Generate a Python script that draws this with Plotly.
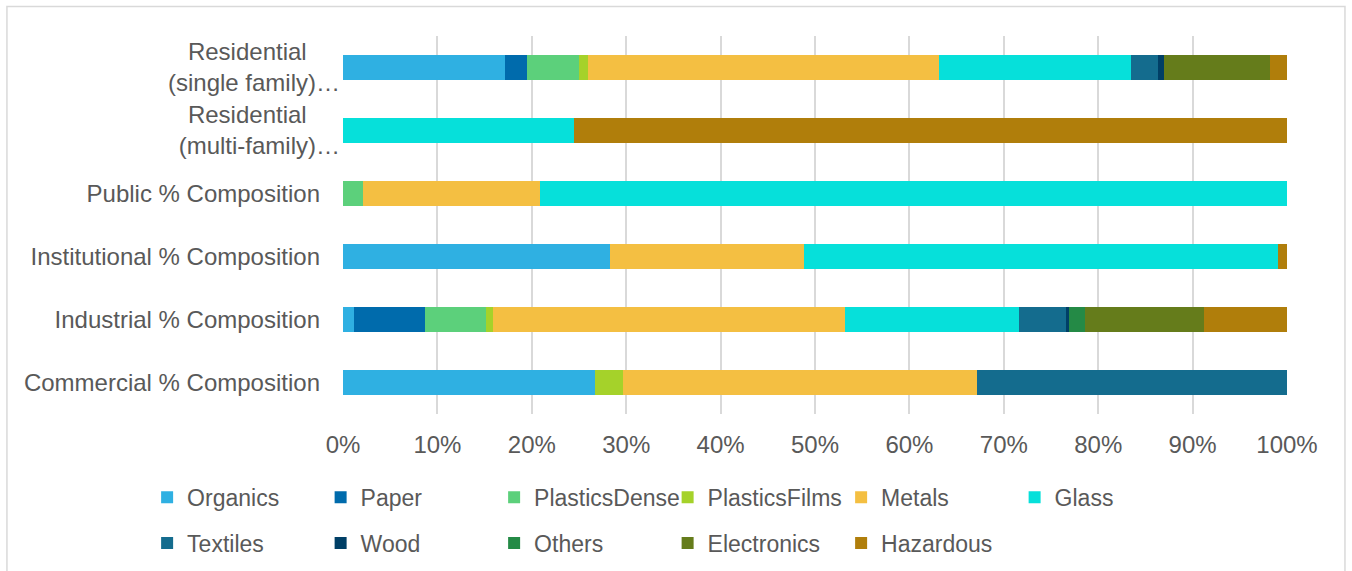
import plotly.graph_objects as go

categories = [
    "Commercial % Composition",
    "Industrial % Composition",
    "Institutional % Composition",
    "Public % Composition",
    "Residential (multi-family)",
    "Residential (single family)",
]
tick_labels = [
    "Commercial % Composition   ",
    "Industrial % Composition   ",
    "Institutional % Composition   ",
    "Public % Composition   ",
    "Residential     <br>(multi-family)…",
    "Residential     <br>(single family)…",
]

materials = ["Organics", "Paper", "PlasticsDense", "PlasticsFilms", "Metals", "Glass",
             "Textiles", "Wood", "Others", "Electronics", "Hazardous"]

# percent values per material, order matches categories
organics       = [26.7, 1.2, 28.3, 0.0, 0.0, 17.2]
paper          = [0.0, 7.5, 0.0, 0.0, 0.0, 2.3]
plastics_dense = [0.0, 6.4, 0.0, 2.1, 0.0, 5.5]
plastics_films = [3.0, 0.8, 0.0, 0.0, 0.0, 1.0]
metals         = [37.5, 37.3, 20.5, 18.8, 0.0, 37.1]
glass          = [0.0, 18.4, 50.2, 79.1, 24.5, 20.4]
textiles       = [32.8, 5.0, 0.0, 0.0, 0.0, 2.8]
wood           = [0.0, 0.3, 0.0, 0.0, 0.0, 0.7]
others         = [0.0, 1.7, 0.0, 0.0, 0.0, 0.0]
electronics    = [0.0, 12.6, 0.0, 0.0, 0.0, 11.2]
hazardous      = [0.0, 8.8, 1.0, 0.0, 75.5, 1.8]

series = [organics, paper, plastics_dense, plastics_films, metals, glass,
          textiles, wood, others, electronics, hazardous]
colors = ["#2FB0E2", "#006BAC", "#5CD07B", "#A5D22A", "#F4BF42", "#06E0DA",
          "#146C8E", "#003F66", "#248A46", "#657C1B", "#B07E0B"]

fig = go.Figure()
for i, (name, vals, col) in enumerate(zip(materials, series, colors)):
    fig.add_trace(go.Bar(
        y=categories, x=vals, name=name, orientation="h",
        marker=dict(color=col, line=dict(width=0)),
        legend="legend" if i < 6 else "legend2",
    ))

font = "Liberation Sans, Arial, sans-serif"
leg_common = dict(
    orientation="h", x=-0.2075, xanchor="left", yanchor="middle",
    entrywidth=128.5, entrywidthmode="pixels",
    font=dict(size=23, color="#595959", family=font),
    traceorder="normal", itemwidth=30, bgcolor="rgba(0,0,0,0)",
)
fig.update_layout(
    barmode="stack",
    barnorm="percent",
    bargap=0.6,
    width=1352, height=571,
    margin=dict(l=343, r=65, t=35.5, b=156.5, autoexpand=False),
    paper_bgcolor="white", plot_bgcolor="white",
    font=dict(family=font, color="#595959", size=24),
    xaxis=dict(
        range=[0, 100], tickvals=list(range(0, 101, 10)),
        ticktext=[f"{v}%" for v in range(0, 101, 10)],
        showgrid=True, gridcolor="#d9d9d9", gridwidth=1.5,
        zeroline=False, showline=False, ticks="",
        tickfont=dict(size=24, color="#595959"),
        ticklabelstandoff=14,
        fixedrange=True,
    ),
    yaxis=dict(
        tickvals=categories, ticktext=tick_labels,
        showgrid=False, zeroline=False, showline=False, ticks="",
        tickfont=dict(size=24, color="#595959"),
        ticklabelstandoff=2,
        fixedrange=True,
    ),
    legend=dict(y=-0.2203, **leg_common),
    legend2=dict(y=-0.3417, **leg_common),
    showlegend=True,
    shapes=[dict(type="rect", xref="paper", yref="paper",
                 x0=-0.356, x1=1.0614, y0=-0.55, y1=1.0778,
                 line=dict(color="#d9d9d9", width=1.5), fillcolor="rgba(0,0,0,0)",
                 layer="below")],
)
fig.write_html("out.html")
